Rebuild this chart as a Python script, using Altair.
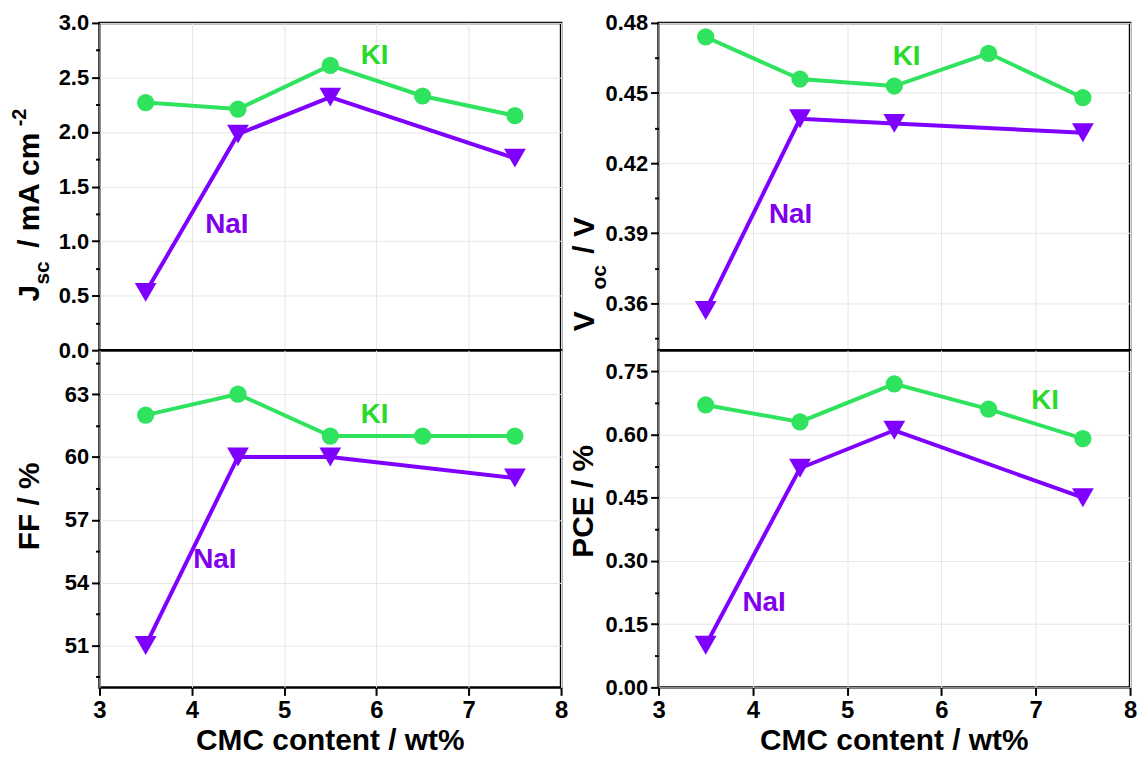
import altair as alt
import pandas as pd

# ---------------- data ----------------
x_ki = [3.5, 4.5, 5.5, 6.5, 7.5]
x_nai = [3.5, 4.5, 5.5, 7.5]

jsc_ki = [2.27, 2.21, 2.61, 2.33, 2.15]
jsc_nai = [0.53, 1.98, 2.32, 1.76]
voc_ki = [0.474, 0.456, 0.453, 0.467, 0.448]
voc_nai = [0.357, 0.439, 0.437, 0.433]
ff_ki = [62.0, 63.0, 61.0, 61.0, 61.0]
ff_nai = [51.0, 60.0, 60.0, 59.0]
pce_ki = [0.67, 0.63, 0.72, 0.66, 0.59]
pce_nai = [0.10, 0.52, 0.61, 0.45]

# in-plot series labels (data coordinates)
jsc_labels = {"KI": (5.98, 2.70), "NaI": (4.38, 1.15)}
voc_labels = {"KI": (5.63, 0.4656), "NaI": (4.40, 0.398)}
ff_labels = {"KI": (5.98, 62.0), "NaI": (4.25, 55.1)}
pce_labels = {"KI": (7.10, 0.679), "NaI": (4.12, 0.20)}

# axis ticks
x_ticks = [3, 3.5, 4, 4.5, 5, 5.5, 6, 6.5, 7, 7.5, 8]
jsc_ticks = [0, 0.25, 0.5, 0.75, 1.0, 1.25, 1.5, 1.75, 2.0, 2.25, 2.5, 2.75, 3.0]
voc_ticks = [0.345, 0.36, 0.375, 0.39, 0.405, 0.42, 0.435, 0.45, 0.465, 0.48]
ff_ticks = [49.5, 51, 52.5, 54, 55.5, 57, 58.5, 60, 61.5, 63, 64.5]
pce_ticks = [0, 0.075, 0.15, 0.225, 0.3, 0.375, 0.45, 0.525, 0.6, 0.675, 0.75]

FONT = "Liberation Sans"
KI_C = "#2fe35f"
NAI_C = "#7f00ff"
KI_T = "#2bd92b"
NAI_T = "#8000ee"
GRID = "#e6e6e6"

X_MAJOR = "datum.value % 1 == 0"


def make_axis(values, major, fmt, show, label_size, pad):
    kw = dict(
        values=values,
        format=fmt,
        grid=True,
        gridColor=GRID,
        gridWidth=1,
        gridOpacity={"condition": {"test": major, "value": 1}, "value": 0},
        domain=False,
        title=None,
    )
    if show:
        kw.update(
            labels=True,
            ticks=True,
            labelExpr=f"({major}) ? datum.label : ''",
            tickSize={"condition": {"test": major, "value": 8}, "value": 4},
            tickWidth=2,
            tickColor="black",
            labelFont=FONT,
            labelFontSize=label_size,
            labelFontWeight="bold",
            labelColor="black",
            labelPadding=pad,
            labelOverlap=False,
            labelFlush=False,
            labelBound=False,
        )
    else:
        kw.update(labels=False, ticks=False)
    return alt.Axis(**kw)


def text_piece(txt, px, py, size, angle=270, align="left"):
    return alt.Chart(pd.DataFrame({"t": [txt]})).mark_text(
        angle=angle, align=align, baseline="alphabetic", font=FONT,
        fontSize=size, fontWeight="bold", color="black"
    ).encode(x=alt.value(px), y=alt.value(py), text="t:N")


def panel(ki, nai, ydom, yticks, ymajor, yfmt, labels, w, h, bottom, pieces):
    X = alt.X("x:Q", scale=alt.Scale(domain=[3, 8], nice=False, zero=False),
              axis=make_axis(x_ticks, X_MAJOR, "d", bottom, 24, 3))
    Y = alt.Y("y:Q", scale=alt.Scale(domain=ydom, nice=False, zero=False),
              axis=make_axis(yticks, ymajor, yfmt, True, 22, 3))
    d_ki = pd.DataFrame({"x": x_ki, "y": ki})
    d_nai = pd.DataFrame({"x": x_nai, "y": nai})
    layers = [
        alt.Chart(d_ki).mark_line(color=KI_C, strokeWidth=4).encode(X, Y),
        alt.Chart(d_nai).mark_line(color=NAI_C, strokeWidth=4).encode(X, Y),
        alt.Chart(d_ki).mark_point(filled=True, opacity=1, color=KI_C, shape="circle",
                                   size=300).encode(X, Y),
        alt.Chart(d_nai).mark_point(filled=True, opacity=1, color=NAI_C,
                                    shape="triangle-down", size=480).encode(X, Y),
    ]
    for name, col in (("KI", KI_T), ("NaI", NAI_T)):
        lx, ly = labels[name]
        layers.append(
            alt.Chart(pd.DataFrame({"x": [lx], "y": [ly], "t": [name]})).mark_text(
                font=FONT, fontSize=28, fontWeight="bold", color=col
            ).encode(X, Y, text="t:N")
        )
    for p in pieces:
        layers.append(text_piece(*p))
    if bottom:
        layers.append(text_piece("CMC content / wt%", w / 2, h + 63, 30, angle=0, align="center"))
    return alt.layer(*layers).properties(width=w, height=h)


TOP_H = 329
BOT_H = 339
L_W = 464
R_W = 474

tl = panel(jsc_ki, jsc_nai, [0, 3], jsc_ticks, "round(datum.value*100) % 50 == 0", ".1f",
           jsc_labels, L_W, TOP_H, False,
           [("J", -61, 280, 30), ("sc", -51, 263, 21), ("/ mA cm", -61, 226, 30),
            ("-2", -74, 104, 20)])
tr = panel(voc_ki, voc_nai, [0.34, 0.48], voc_ticks, "round(datum.value*1000) % 30 == 0", ".2f",
           voc_labels, R_W, TOP_H, False,
           [("V", -65, 310, 30), ("oc", -53, 268, 21), ("/ V", -65, 232, 30)])
bl = panel(ff_ki, ff_nai, [49, 65.1], ff_ticks, "datum.value % 1 == 0", "d",
           ff_labels, L_W, BOT_H, True,
           [("FF / %", -61, 157, 30, 270, "center")])
br = panel(pce_ki, pce_nai, [0, 0.8], pce_ticks, "round(datum.value*1000) % 150 == 0", ".2f",
           pce_labels, R_W, BOT_H, True,
           [("PCE / %", -66, 152, 30, 270, "center")])

chart = alt.concat(
    tl, tr, bl, br, columns=2,
    spacing=alt.RowColnumber(row=0, column=98),
    bounds="flush",
).properties(padding=0).configure_view(stroke="black", strokeWidth=2.5)

chart.save("out.html", embed_options={"renderer": "svg", "actions": False})
